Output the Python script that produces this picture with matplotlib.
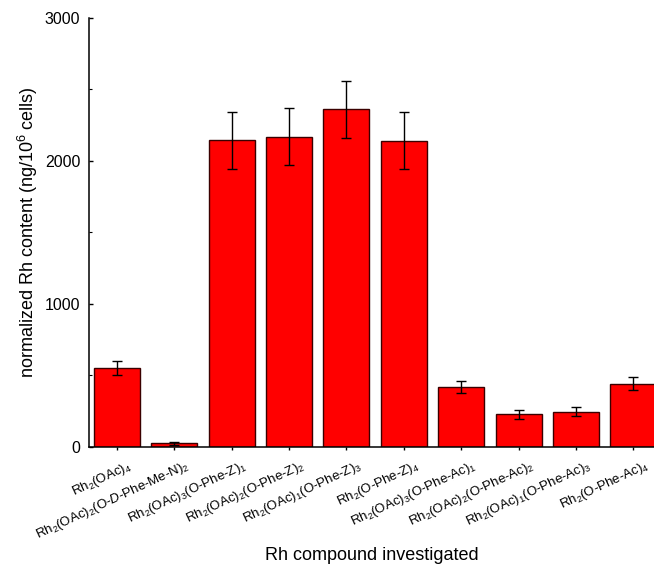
import matplotlib
matplotlib.use("Agg")
import matplotlib.pyplot as plt
import matplotlib.transforms as mtransforms
import numpy as np

plt.rcParams["font.family"] = ["Liberation Sans", "DejaVu Sans"]
plt.rcParams["mathtext.fontset"] = "custom"
plt.rcParams["mathtext.rm"] = "Liberation Sans"
plt.rcParams["mathtext.it"] = "Liberation Sans:italic"
plt.rcParams["mathtext.bf"] = "Liberation Sans:bold"

compounds = [
    r"Rh$_2$(OAc)$_4$",
    r"Rh$_2$(OAc)$_2$(O-$\mathit{D}$-Phe-Me-N)$_2$",
    r"Rh$_2$(OAc)$_3$(O-Phe-Z)$_1$",
    r"Rh$_2$(OAc)$_2$(O-Phe-Z)$_2$",
    r"Rh$_2$(OAc)$_1$(O-Phe-Z)$_3$",
    r"Rh$_2$(O-Phe-Z)$_4$",
    r"Rh$_2$(OAc)$_3$(O-Phe-Ac)$_1$",
    r"Rh$_2$(OAc)$_2$(O-Phe-Ac)$_2$",
    r"Rh$_2$(OAc)$_1$(O-Phe-Ac)$_3$",
    r"Rh$_2$(O-Phe-Ac)$_4$",
]
rh_content = [552, 22, 2145, 2170, 2362, 2140, 417, 225, 244, 440]
rh_error = [49, 8, 200, 200, 200, 200, 45, 30, 30, 45]

fig = plt.figure(figsize=(6.54, 5.68), dpi=100)
ax = fig.add_axes([0.1356, 0.2139, 0.8644, 0.7544])

x = np.arange(len(compounds))
ax.bar(x, rh_content, width=0.8, color="#ff0000", edgecolor="#3a0000",
       linewidth=1.0, zorder=2)
ax.errorbar(x, rh_content, yerr=rh_error, fmt="none", ecolor="black",
            elinewidth=1.0, capsize=3.5, capthick=1.0, zorder=3)

ax.set_xlim(-0.49, 9.36)
ax.set_ylim(0, 3000)
ax.set_yticks([0, 1000, 2000, 3000])
ax.set_yticks([500, 1500, 2500], minor=True)

for side in ["top", "right"]:
    ax.spines[side].set_visible(False)
for side in ["left", "bottom"]:
    ax.spines[side].set_linewidth(1.1)

ax.tick_params(axis="y", which="major", direction="in", length=3,
               width=1.0, labelsize=11.5, pad=6)
ax.tick_params(axis="y", which="minor", direction="in", length=2, width=0.8)
ax.tick_params(axis="x", direction="out", length=2, width=1.0)

ax.set_xticks(x)
ax.set_xticklabels(compounds, rotation=25, ha="right", va="top",
                   rotation_mode="anchor", fontsize=9.5)
offset = mtransforms.ScaledTranslation(11 / 100, -4 / 100, fig.dpi_scale_trans)
for lbl in ax.get_xticklabels():
    lbl.set_transform(lbl.get_transform() + offset)

ax.set_ylabel(r"normalized Rh content (ng/10$^6$ cells)", fontsize=13)
ax.yaxis.set_label_coords(-0.086, 0.5)
ax.set_xlabel("Rh compound investigated", fontsize=13)
ax.xaxis.set_label_coords(0.5, -0.235)

fig.savefig("out.png", dpi=100)
